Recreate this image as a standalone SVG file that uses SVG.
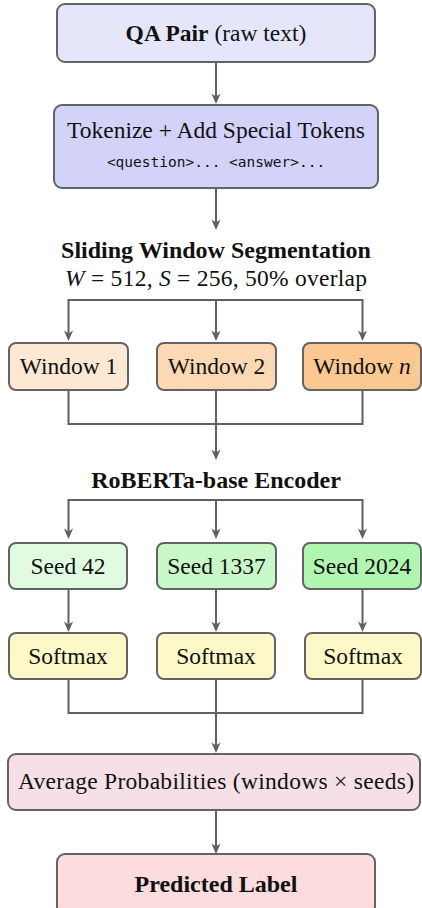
<svg xmlns="http://www.w3.org/2000/svg" width="422" height="908" viewBox="0 0 422 908">
<style>
.box{stroke:#636363;stroke-width:2}
.t{font-family:"Liberation Serif","Times New Roman",serif;font-size:23.5px;fill:#111;text-anchor:middle}
.b{font-weight:bold}
.h{font-size:24px}
.i{font-style:italic}
.m{font-family:"DejaVu Sans Mono","Liberation Mono",monospace;font-size:14.5px;fill:#111;text-anchor:middle}
.c{fill:none;stroke:#606060;stroke-width:2}
</style>
<defs>
<marker id="ah" viewBox="-11 -6 12 12" refX="-3" refY="0" markerWidth="12" markerHeight="12" markerUnits="userSpaceOnUse" orient="auto">
<path d="M0,0 L-10.5,-4.6 L-7.5,0 L-10.5,4.6 Z" fill="#606060"/>
</marker>
</defs>
<rect width="422" height="908" fill="#fff"/>
<g id="connectors">
<path class="c" d="M216,62 V101" marker-end="url(#ah)"/>
<path class="c" d="M216,188 V227" marker-end="url(#ah)"/>
<path class="c" d="M68.5,337 V300 H362.5 V337"/>
<path class="c" d="M68.5,337 V338" marker-end="url(#ah)"/>
<path class="c" d="M362.5,337 V338" marker-end="url(#ah)"/>
<path class="c" d="M216,300 V338" marker-end="url(#ah)"/>
<path class="c" d="M68.5,390 V424 H362.5 V390"/>
<path class="c" d="M216,390 V457" marker-end="url(#ah)"/>
<path class="c" d="M68.5,535 V500 H362.5 V535"/>
<path class="c" d="M68.5,535 V536" marker-end="url(#ah)"/>
<path class="c" d="M362.5,535 V536" marker-end="url(#ah)"/>
<path class="c" d="M216,500 V536" marker-end="url(#ah)"/>
<path class="c" d="M68.5,589 V629" marker-end="url(#ah)"/>
<path class="c" d="M216,589 V629" marker-end="url(#ah)"/>
<path class="c" d="M362.5,589 V629" marker-end="url(#ah)"/>
<path class="c" d="M68.5,679 V713 H362.5 V679"/>
<path class="c" d="M216,679 V750" marker-end="url(#ah)"/>
<path class="c" d="M216,810 V851" marker-end="url(#ah)"/>
</g>
<g id="qa">
<rect class="box" x="57" y="4" width="318" height="58" rx="8" fill="#e6e6fb"/>
<text class="t" x="216" y="41"><tspan class="b">QA Pair</tspan> (raw text)</text>
</g>
<g id="tokenize">
<rect class="box" x="54" y="105" width="324" height="83" rx="8" fill="#d3d3fa"/>
<text class="t" x="216" y="138">Tokenize + Add Special Tokens</text>
<text class="m" x="216" y="167">&lt;question&gt;... &lt;answer&gt;...</text>
</g>
<g id="sliding">
<text class="t b h" x="216" y="258">Sliding Window Segmentation</text>
<text class="t" x="216" y="286" textLength="302"><tspan class="i">W</tspan> = 512, <tspan class="i">S</tspan> = 256, 50% overlap</text>
</g>
<g id="window1">
<rect class="box" x="9" y="343" width="119" height="47" rx="7" fill="#fde8d4"/>
<text class="t" x="68.5" y="374">Window 1</text>
</g>
<g id="window2">
<rect class="box" x="157" y="343" width="119" height="47" rx="7" fill="#fcd8b4"/>
<text class="t" x="216.5" y="374">Window 2</text>
</g>
<g id="windown">
<rect class="box" x="303" y="343" width="118" height="47" rx="7" fill="#fbc892"/>
<text class="t" x="362" y="374">Window <tspan class="i">n</tspan></text>
</g>
<g id="roberta">
<text class="t b h" x="216" y="488">RoBERTa-base Encoder</text>
</g>
<g id="seed42">
<rect class="box" x="9" y="543" width="118" height="46" rx="7" fill="#e0fbe0"/>
<text class="t" x="68" y="574">Seed 42</text>
</g>
<g id="seed1337">
<rect class="box" x="157" y="543" width="119" height="46" rx="7" fill="#c8f8c8"/>
<text class="t" x="216.5" y="574">Seed 1337</text>
</g>
<g id="seed2024">
<rect class="box" x="303" y="543" width="118" height="46" rx="7" fill="#b0f5b0"/>
<text class="t" x="362" y="574">Seed 2024</text>
</g>
<g id="softmax1">
<rect class="box" x="9" y="633" width="118" height="46" rx="7" fill="#fdf8c8"/>
<text class="t" x="68" y="664">Softmax</text>
</g>
<g id="softmax2">
<rect class="box" x="157" y="633" width="118" height="46" rx="7" fill="#fdf8c8"/>
<text class="t" x="216" y="664">Softmax</text>
</g>
<g id="softmax3">
<rect class="box" x="305" y="633" width="116" height="46" rx="7" fill="#fdf8c8"/>
<text class="t" x="363" y="664">Softmax</text>
</g>
<g id="average">
<rect class="box" x="8" y="754" width="412" height="56" rx="8" fill="#f6dfe6"/>
<text class="t" x="216" y="789" textLength="396">Average Probabilities (windows × seeds)</text>
</g>
<g id="predicted">
<rect class="box" x="57" y="854" width="318" height="60" rx="8" fill="#fcdcdd"/>
<text class="t b h" x="216" y="892">Predicted Label</text>
</g>
</svg>
